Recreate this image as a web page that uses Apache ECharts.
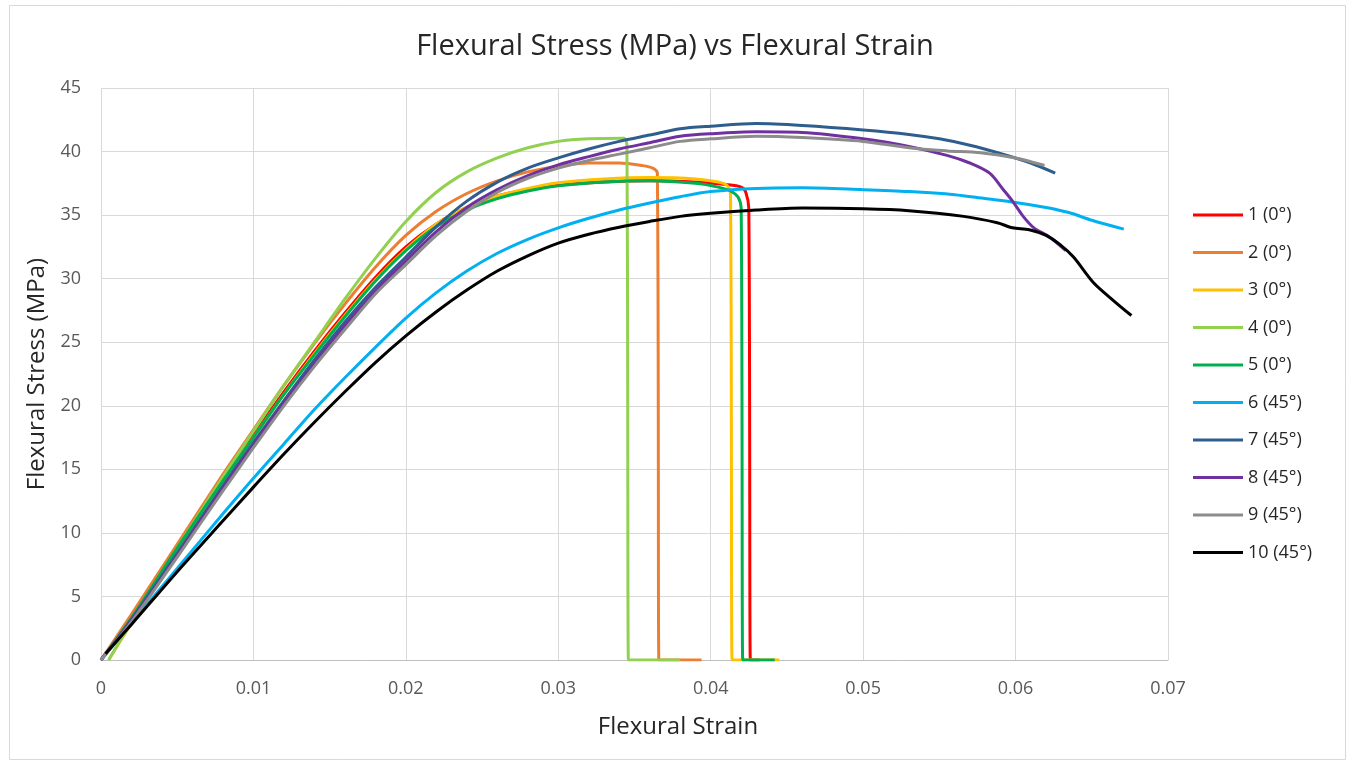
<!DOCTYPE html>
<html>
<head>
<meta charset="utf-8">
<script src="https://cdn.jsdelivr.net/npm/echarts@6/dist/echarts.min.js"></script>
<style>
html,body{margin:0;padding:0;background:#fff;}
#chart{width:1350px;height:761px;}
</style>
</head>
<body>
<div id="chart"></div>
<script>
const xTicks = [0, 0.01, 0.02, 0.03, 0.04, 0.05, 0.06, 0.07];
const yTicks = [0, 5, 10, 15, 20, 25, 30, 35, 40, 45];

const seriesNames = ['1 (0°)', '2 (0°)', '3 (0°)', '4 (0°)', '5 (0°)', '6 (45°)', '7 (45°)', '8 (45°)', '9 (45°)', '10 (45°)'];
const seriesColors = ['#FF0000', '#ED7D31', '#FFC000', '#92D050', '#00B050', '#00B0F0', '#2E5E8C', '#7030A0', '#8C8C8C', '#000000'];

const s1 = [[0,0],[0.002,3.4],[0.005,8.9],[0.008,14.3],[0.01,17.7],[0.012,21.1],[0.014,24.3],[0.016,27.3],[0.018,30.1],[0.02,32.5],[0.022,34.3],[0.024,35.6],[0.026,36.5],[0.028,37.0],[0.03,37.35],[0.033,37.6],[0.036,37.7],[0.039,37.6],[0.041,37.4],[0.042,37.2],[0.0423,36.8],[0.0425,35.5],[0.0426,0],[0.0427,0],[0.0432,0]];
const s2 = [[0,0],[0.002,3.6],[0.005,9.1],[0.008,14.6],[0.01,18.1],[0.012,21.6],[0.014,24.9],[0.016,28.0],[0.018,30.9],[0.02,33.4],[0.022,35.3],[0.024,36.7],[0.026,37.7],[0.028,38.4],[0.03,38.85],[0.032,39.1],[0.034,39.1],[0.0355,38.9],[0.0362,38.7],[0.0365,38.3],[0.0366,0],[0.0367,0],[0.0394,0]];
const s3 = [[0.0005,0],[0.002,2.9],[0.005,8.6],[0.008,14.0],[0.01,17.5],[0.012,20.9],[0.014,24.1],[0.016,27.1],[0.018,29.9],[0.02,32.3],[0.022,34.3],[0.024,35.6],[0.026,36.5],[0.028,37.1],[0.03,37.55],[0.033,37.85],[0.036,37.95],[0.039,37.85],[0.0405,37.6],[0.0411,37.3],[0.0413,36.5],[0.0414,0],[0.0415,0],[0.0445,0]];
const s4 = [[0.0005,0],[0.002,3.0],[0.005,8.8],[0.008,14.4],[0.01,18.0],[0.012,21.6],[0.014,25.0],[0.016,28.4],[0.018,31.6],[0.02,34.5],[0.022,36.8],[0.024,38.4],[0.026,39.5],[0.028,40.3],[0.03,40.8],[0.032,41.0],[0.0343,41.05],[0.0345,40.5],[0.0346,0],[0.0347,0],[0.038,0]];
const s5 = [[0,0],[0.002,3.3],[0.005,8.8],[0.008,14.1],[0.01,17.5],[0.012,20.9],[0.014,24.0],[0.016,27.0],[0.018,29.8],[0.02,32.2],[0.022,34.1],[0.024,35.4],[0.026,36.3],[0.028,36.9],[0.03,37.3],[0.033,37.6],[0.036,37.7],[0.039,37.5],[0.0405,37.2],[0.0413,36.9],[0.0418,36.4],[0.042,35.5],[0.0421,0],[0.0422,0],[0.0442,0]];
const s6 = [[0,0],[0.002,2.9],[0.005,7.2],[0.008,11.5],[0.01,14.3],[0.012,17.0],[0.014,19.7],[0.016,22.2],[0.018,24.6],[0.02,26.9],[0.022,28.9],[0.024,30.6],[0.026,32.0],[0.028,33.1],[0.03,34.0],[0.032,34.75],[0.034,35.4],[0.036,35.95],[0.038,36.45],[0.04,36.85],[0.043,37.1],[0.046,37.15],[0.05,37.0],[0.053,36.85],[0.056,36.6],[0.058,36.3],[0.06,36.0],[0.062,35.6],[0.0635,35.2],[0.065,34.6],[0.0671,33.9]];
const s7 = [[0,0],[0.002,3.2],[0.005,8.4],[0.008,13.7],[0.01,17.1],[0.012,20.4],[0.014,23.6],[0.016,26.6],[0.018,29.3],[0.02,31.7],[0.022,34.1],[0.024,36.1],[0.026,37.6],[0.028,38.7],[0.03,39.5],[0.032,40.2],[0.034,40.8],[0.036,41.3],[0.038,41.8],[0.04,42.0],[0.043,42.2],[0.046,42.05],[0.05,41.7],[0.053,41.35],[0.055,41.0],[0.057,40.5],[0.059,39.85],[0.061,39.1],[0.0626,38.3]];
const s8 = [[0,0],[0.002,3.1],[0.005,8.2],[0.008,13.5],[0.01,16.9],[0.012,20.2],[0.014,23.3],[0.016,26.3],[0.018,29.0],[0.02,31.4],[0.022,33.7],[0.024,35.6],[0.026,37.0],[0.028,38.1],[0.03,38.95],[0.032,39.6],[0.034,40.2],[0.036,40.7],[0.038,41.2],[0.04,41.4],[0.043,41.55],[0.046,41.5],[0.05,41.0],[0.053,40.4],[0.0555,39.7],[0.057,39.1],[0.0583,38.3],[0.0592,37.0],[0.0598,36.1],[0.0605,34.9],[0.0612,34.0],[0.0622,33.3],[0.0633,32.2]];
const s9 = [[0,0],[0.002,3.0],[0.005,8.1],[0.008,13.3],[0.01,16.7],[0.012,20.0],[0.014,23.1],[0.016,26.0],[0.018,28.8],[0.02,31.1],[0.022,33.4],[0.024,35.3],[0.026,36.8],[0.028,37.9],[0.03,38.7],[0.032,39.3],[0.034,39.8],[0.036,40.3],[0.038,40.8],[0.04,41.0],[0.043,41.2],[0.046,41.1],[0.05,40.8],[0.053,40.3],[0.0555,40.05],[0.0577,39.9],[0.06,39.5],[0.061,39.2],[0.0619,38.9]];
const s10 = [[0.0003,0.5],[0.002,2.8],[0.005,6.95],[0.008,10.95],[0.01,13.6],[0.012,16.2],[0.014,18.7],[0.016,21.1],[0.018,23.4],[0.02,25.5],[0.022,27.4],[0.024,29.1],[0.026,30.6],[0.028,31.8],[0.03,32.8],[0.032,33.5],[0.034,34.05],[0.036,34.5],[0.038,34.9],[0.04,35.15],[0.043,35.4],[0.046,35.55],[0.05,35.5],[0.053,35.35],[0.0566,34.9],[0.0588,34.4],[0.0598,34.0],[0.0609,33.85],[0.062,33.4],[0.0629,32.7],[0.0638,31.7],[0.0651,29.7],[0.0664,28.3],[0.0676,27.1]];

const allData = [s1, s2, s3, s4, s5, s6, s7, s8, s9, s10];

const chart = echarts.init(document.getElementById('chart'), null, {renderer: 'canvas'});
const FONT = 'Open Sans';

const option = {
  animation: false,
  backgroundColor: '#fff',
  graphic: [{
    type: 'rect', left: 7, top: 3, shape: {width: 1336, height: 754},
    style: {fill: 'none', stroke: '#D9D9D9', lineWidth: 1}, silent: true
  }],
  title: {
    text: 'Flexural Stress (MPa) vs Flexural Strain',
    left: 'center', top: 32, padding: 0,
    textStyle: {fontFamily: FONT, fontSize: 29, fontWeight: 'normal', color: '#262626'}
  },
  grid: {left: 101, right: 182, top: 88, bottom: 101, containLabel: false},
  legend: {
    orient: 'vertical', left: 1193, top: 205, padding: 0,
    icon: 'rect', itemWidth: 50, itemHeight: 3, itemGap: 17.5,
    textStyle: {fontFamily: FONT, fontSize: 18, color: '#262626', lineHeight: 20},
    data: seriesNames
  },
  xAxis: {
    type: 'value', min: 0, max: 0.07, interval: 0.01,
    name: 'Flexural Strain', nameLocation: 'middle', nameGap: 55,
    nameTextStyle: {fontFamily: FONT, fontSize: 24, color: '#262626', padding: [0, 0, 0, 87]},
    axisLine: {show: true, lineStyle: {color: '#BFBFBF', width: 1}},
    axisTick: {show: false},
    axisLabel: {fontFamily: FONT, fontSize: 18, color: '#595959', margin: 20,
      formatter: v => String(+v.toFixed(2))},
    splitLine: {show: true, lineStyle: {color: '#D9D9D9', width: 1}}
  },
  yAxis: {
    type: 'value', min: 0, max: 45, interval: 5,
    name: 'Flexural Stress (MPa)', nameLocation: 'middle', nameGap: 51,
    nameTextStyle: {fontFamily: FONT, fontSize: 24, color: '#262626'},
    axisLine: {show: false},
    axisTick: {show: false},
    axisLabel: {fontFamily: FONT, fontSize: 18, color: '#595959', margin: 20},
    splitLine: {show: true, lineStyle: {color: '#D9D9D9', width: 1}}
  },
  series: allData.map((d, i) => ({
    name: seriesNames[i],
    type: 'line',
    data: d,
    showSymbol: false,
    symbol: 'none',
    smooth: 0.3,
    color: seriesColors[i],
    lineStyle: {width: 3, color: seriesColors[i]},
    itemStyle: {color: seriesColors[i]}
  }))
};
chart.setOption(option);
</script>
</body>
</html>
